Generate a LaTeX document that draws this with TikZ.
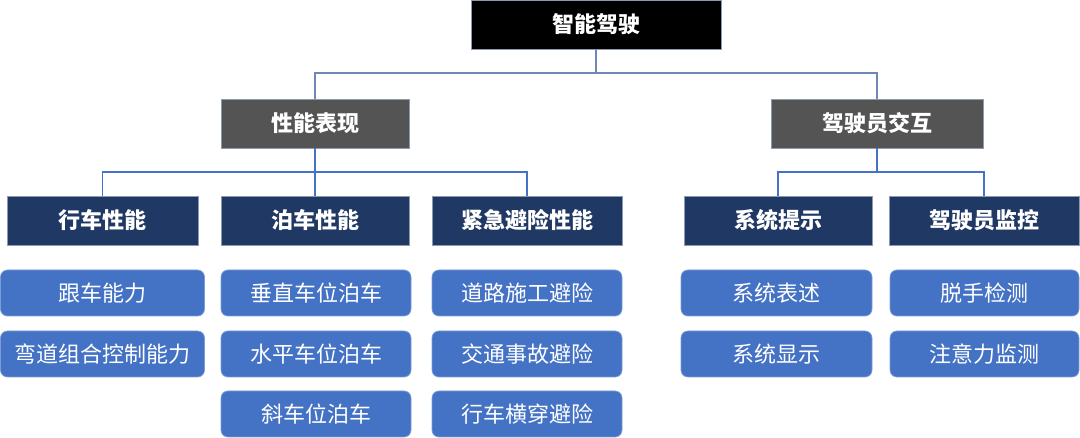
\documentclass[tikz,border=0pt]{standalone}
\usepackage{fontspec}
\newfontfamily\cjk{Noto Sans CJK SC}
\definecolor{rootc}{HTML}{000000}
\definecolor{grayc}{HTML}{545454}
\definecolor{navyc}{HTML}{203864}
\definecolor{leafc}{HTML}{4472C4}
\definecolor{linec}{HTML}{4472C4}
\definecolor{linetop}{HTML}{6F87B4}
\definecolor{edgec}{HTML}{8C9AB0}
\tikzset{
  box/.style={inner sep=0pt, text=white, draw=edgec, line width=0.7pt,
    font=\cjk\fontsize{22}{26}\selectfont},
  rootbox/.style={box, fill=rootc, font=\cjk\bfseries\fontsize{22}{26}\selectfont},
  graybox/.style={box, fill=grayc, font=\cjk\bfseries\fontsize{22}{26}\selectfont},
  navybox/.style={box, fill=navyc, font=\cjk\bfseries\fontsize{22}{26}\selectfont},
  leafbox/.style={box, fill=leafc, rounded corners=7pt, draw=leafc!70!white},
  conn/.style={draw=linec, line width=1.4pt},
  conntop/.style={draw=linetop, line width=1.4pt}
}
\begin{document}
\begin{tikzpicture}[x=1pt,y=-1pt]
\useasboundingbox[fill=white] (0,0) rectangle (1080,438);
% root
\node[rootbox, minimum width=250pt, minimum height=49pt] (root) at (596,24.5) {智能驾驶};
% level 2
\node[graybox, minimum width=188pt, minimum height=49pt] (g1) at (315,123.5) {性能表现};
\node[graybox, minimum width=212pt, minimum height=49pt] (g2) at (877,123.5) {驾驶员交互};
% level 3
\node[navybox, minimum width=191pt, minimum height=49pt] (h1) at (102.5,220.5) {行车性能};
\node[navybox, minimum width=188pt, minimum height=49pt] (h2) at (315,220.5) {泊车性能};
\node[navybox, minimum width=190pt, minimum height=49pt] (h3) at (527,220.5) {紧急避险性能};
\node[navybox, minimum width=188pt, minimum height=49pt] (h4) at (778,220.5) {系统提示};
\node[navybox, minimum width=190pt, minimum height=49pt] (h5) at (984,220.5) {驾驶员监控};
% leaves
\node[leafbox, minimum width=204pt, minimum height=46pt] (l11) at (102.5,293) {跟车能力};
\node[leafbox, minimum width=204pt, minimum height=46pt] (l12) at (102.5,354) {弯道组合控制能力};
\node[leafbox, minimum width=190pt, minimum height=46pt] (l21) at (316,293) {垂直车位泊车};
\node[leafbox, minimum width=190pt, minimum height=46pt] (l22) at (316,354) {水平车位泊车};
\node[leafbox, minimum width=190pt, minimum height=46pt] (l23) at (316,414) {斜车位泊车};
\node[leafbox, minimum width=190pt, minimum height=46pt] (l31) at (527,293) {道路施工避险};
\node[leafbox, minimum width=190pt, minimum height=46pt] (l32) at (527,354) {交通事故避险};
\node[leafbox, minimum width=190pt, minimum height=46pt] (l33) at (527,414) {行车横穿避险};
\node[leafbox, minimum width=191pt, minimum height=46pt] (l41) at (776.5,293) {系统表述};
\node[leafbox, minimum width=191pt, minimum height=46pt] (l42) at (776.5,354) {系统显示};
\node[leafbox, minimum width=189pt, minimum height=46pt] (l51) at (984.5,293) {脱手检测};
\node[leafbox, minimum width=189pt, minimum height=46pt] (l52) at (984.5,354) {注意力监测};
% connectors
\coordinate (j0) at (596,73);
\coordinate (j1) at (315,172);
\coordinate (j2) at (877,172);
\draw[conntop] (root.south) -- (j0);
\draw[conntop] (j0) -| (g1.north);
\draw[conntop] (j0) -| (g2.north);
\draw[conn] (g1.south) -- (j1);
\draw[conn] (j1) -| (h1.north);
\draw[conn] (j1) -- (h2.north);
\draw[conn] (j1) -| (h3.north);
\draw[conn] (g2.south) -- (j2);
\draw[conn] (j2) -| (h4.north);
\draw[conn] (j2) -| (h5.north);
\end{tikzpicture}
\end{document}
